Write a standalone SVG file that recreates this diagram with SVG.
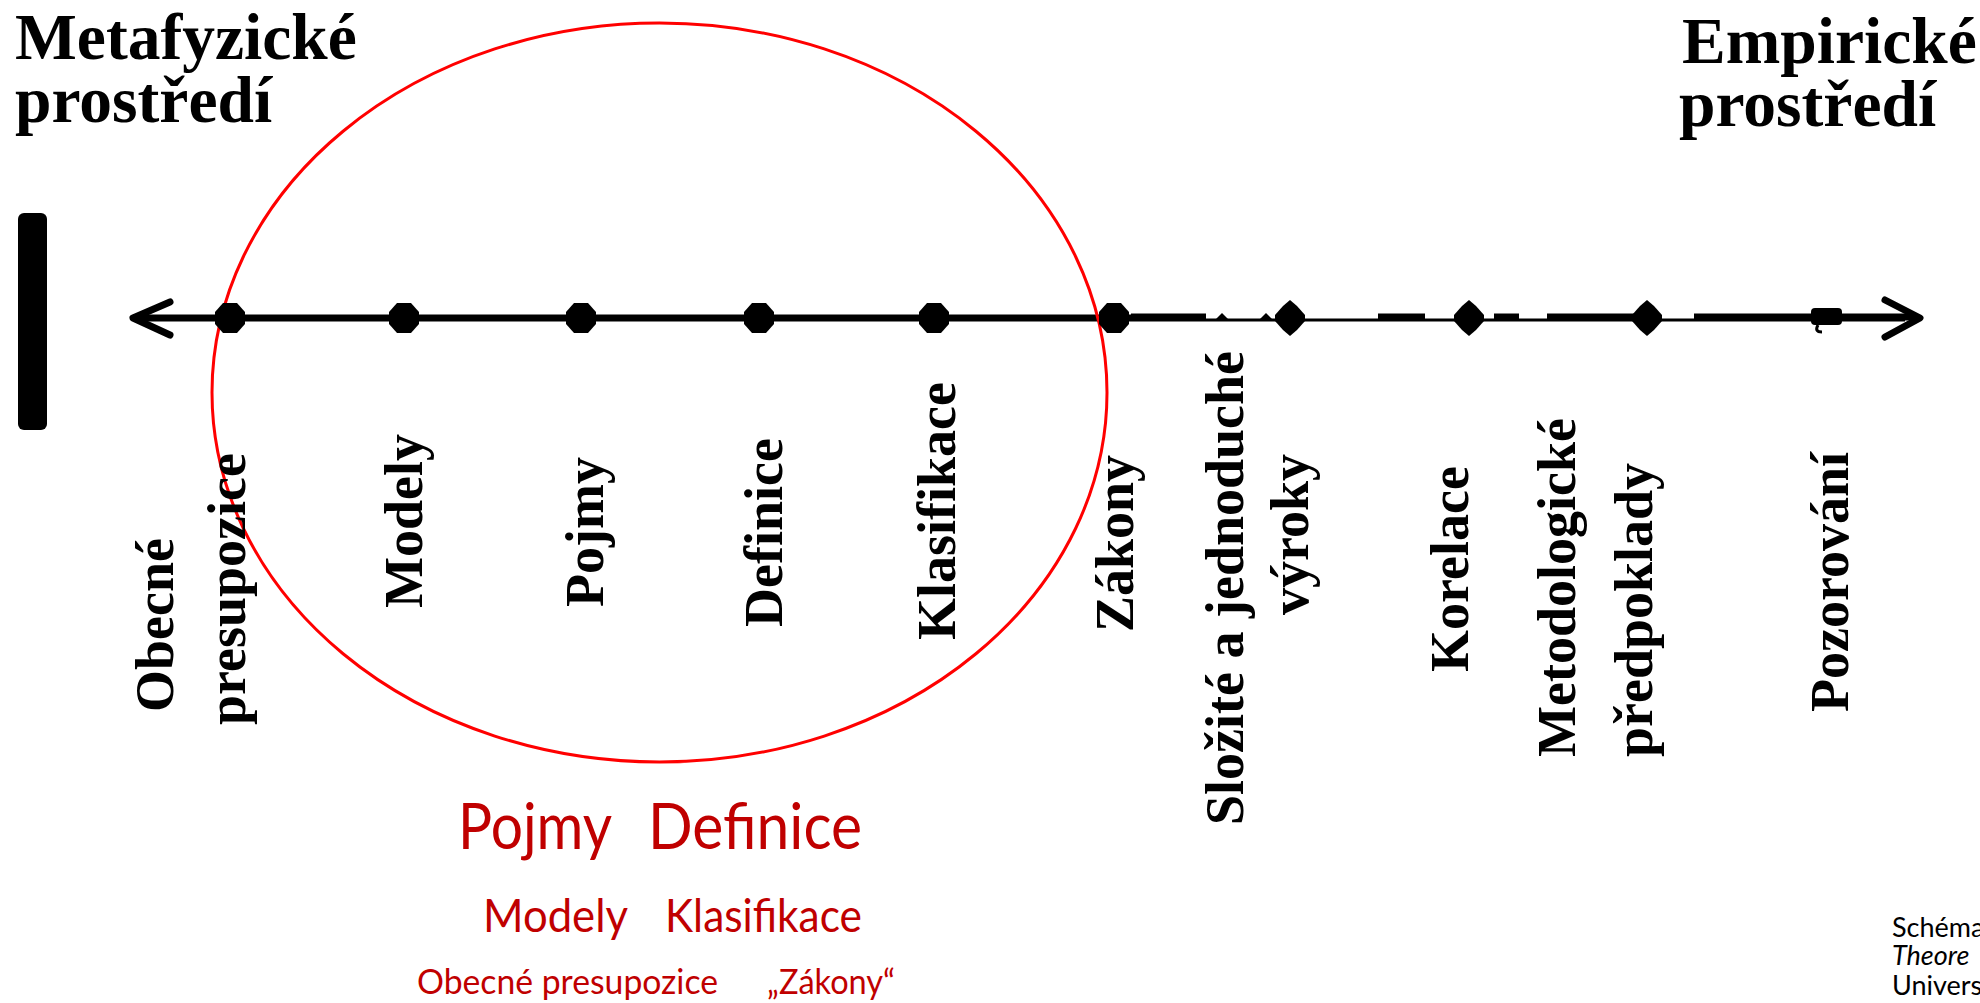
<svg xmlns="http://www.w3.org/2000/svg" xmlns:xlink="http://www.w3.org/1999/xlink" width="1980" height="1003" viewBox="0 0 1980 1003">
<style>
.t{font-family:"Liberation Serif","Times New Roman",serif;font-weight:bold;fill:#000}
.title{font-size:65.5px}
.lbl{font-size:54px}
.red{font-family:Lato,"Liberation Sans",sans-serif;fill:#C00000}
.cite{font-family:Lato,"Liberation Sans",sans-serif;font-size:27px;fill:#000}
.thick{stroke:#000;stroke-width:7;fill:none}
.thin{stroke:#000;stroke-width:3;fill:none}
.arrow{stroke:#000;stroke-width:7;fill:none;stroke-linecap:round;stroke-linejoin:round}
.dot{fill:#000}
</style>
<defs>
<path id="oct" d="M-7,-15 L7,-15 L15,-6 L15,6 L7,15 L-7,15 L-15,6 L-15,-6 Z"/>
<path id="dia" d="M0,-18 L7,-12 L15,-3 L15,3 L7,12 L0,18 L-7,12 L-15,3 L-15,-3 L-7,-12 Z"/>
</defs>
<rect width="1980" height="1003" fill="#fff"/>

<g id="title-left">
<text class="t title" x="15" y="59">Metafyzické</text>
<text class="t title" x="15" y="122">prostředí</text>
</g>
<g id="title-right">
<text class="t title" x="1682" y="63">Empirické</text>
<text class="t title" x="1679" y="126">prostředí</text>
</g>

<rect id="bar" x="18" y="213" width="29" height="217" rx="6" fill="#000"/>

<g id="connectors">
<line class="thick" x1="135" y1="318" x2="1131" y2="318"/>
<line class="thin" x1="1131" y1="320" x2="1905" y2="320"/>
<line class="thick" x1="1131" y1="317" x2="1206" y2="317"/>
<line class="thick" x1="1378" y1="317" x2="1425" y2="317"/>
<line class="thick" x1="1494" y1="317" x2="1519" y2="317"/>
<line class="thick" x1="1547" y1="317" x2="1637" y2="317"/>
<line class="thick" x1="1694" y1="317" x2="1812" y2="317"/>
<line class="thick" x1="1840" y1="317" x2="1915" y2="317"/>
<path class="dot" d="M1214,321 L1222,313 L1230,321 Z"/>
<path class="dot" d="M1258,321 L1266,313 L1274,321 Z"/>
<polyline class="arrow" points="170,302 133,318 170,335"/>
<polyline class="arrow" points="1885,300 1920,318 1885,337"/>
</g>

<ellipse id="circle" cx="659.5" cy="392.5" rx="447.5" ry="369.5" fill="none" stroke="#FF0000" stroke-width="3"/>

<g id="n-obecne">
<use xlink:href="#oct" class="dot" x="230" y="318"/>
<text class="t lbl" transform="translate(173,712) rotate(-90)">Obecné</text>
<text class="t lbl" transform="translate(245,725) rotate(-90)">presupozice</text>
</g>
<g id="n-modely">
<use xlink:href="#oct" class="dot" x="404" y="318"/>
<text class="t lbl" transform="translate(422,608) rotate(-90)">Modely</text>
</g>
<g id="n-pojmy">
<use xlink:href="#oct" class="dot" x="581" y="318"/>
<text class="t lbl" transform="translate(603,607) rotate(-90)">Pojmy</text>
</g>
<g id="n-definice">
<use xlink:href="#oct" class="dot" x="759" y="318"/>
<text class="t lbl" transform="translate(782,627) rotate(-90)">Definice</text>
</g>
<g id="n-klasifikace">
<use xlink:href="#oct" class="dot" x="934" y="318"/>
<text class="t lbl" transform="translate(955,640) rotate(-90)">Klasifikace</text>
</g>
<g id="n-zakony">
<use xlink:href="#oct" class="dot" x="1114" y="318"/>
<text class="t lbl" transform="translate(1133,632) rotate(-90)">Zákony</text>
</g>
<g id="n-vyroky">
<use xlink:href="#dia" class="dot" x="1290" y="318"/>
<text class="t lbl" transform="translate(1243,825) rotate(-90)">Složité a jednoduché</text>
<text class="t lbl" transform="translate(1308,615) rotate(-90)">výroky</text>
</g>
<g id="n-korelace">
<use xlink:href="#dia" class="dot" x="1469" y="318"/>
<text class="t lbl" transform="translate(1468,672) rotate(-90)">Korelace</text>
</g>
<g id="n-metodologicke">
<use xlink:href="#dia" class="dot" x="1647" y="318"/>
<text class="t lbl" transform="translate(1575,757) rotate(-90)">Metodologické</text>
<text class="t lbl" transform="translate(1652,757) rotate(-90)">předpoklady</text>
</g>
<g id="n-pozorovani">
<rect class="dot" x="1811" y="308" width="31" height="17" rx="4"/>
<path d="M1818,325 Q1814,332 1822,332" stroke="#000" stroke-width="3" fill="none"/>
<text class="t lbl" transform="translate(1848,712) rotate(-90)">Pozorování</text>
</g>

<g id="red-list">
<text class="red" font-size="63" x="458" y="849" textLength="154" lengthAdjust="spacingAndGlyphs">Pojmy</text>
<text class="red" font-size="63" x="648" y="849" textLength="214" lengthAdjust="spacingAndGlyphs">Definice</text>
<text class="red" font-size="47" x="483" y="932" textLength="145" lengthAdjust="spacingAndGlyphs">Modely</text>
<text class="red" font-size="47" x="665" y="932" textLength="197" lengthAdjust="spacingAndGlyphs">Klasifikace</text>
<text class="red" font-size="35" x="417" y="994" textLength="301" lengthAdjust="spacingAndGlyphs">Obecné presupozice</text>
<text class="red" font-size="35" x="767" y="994" textLength="128" lengthAdjust="spacingAndGlyphs">„Zákony“</text>
</g>

<g id="citation">
<text class="cite" x="1892" y="937">Schéma</text>
<text class="cite" x="1892" y="965" font-style="italic">Theore</text>
<text class="cite" x="1892" y="995">Univers</text>
</g>
</svg>
